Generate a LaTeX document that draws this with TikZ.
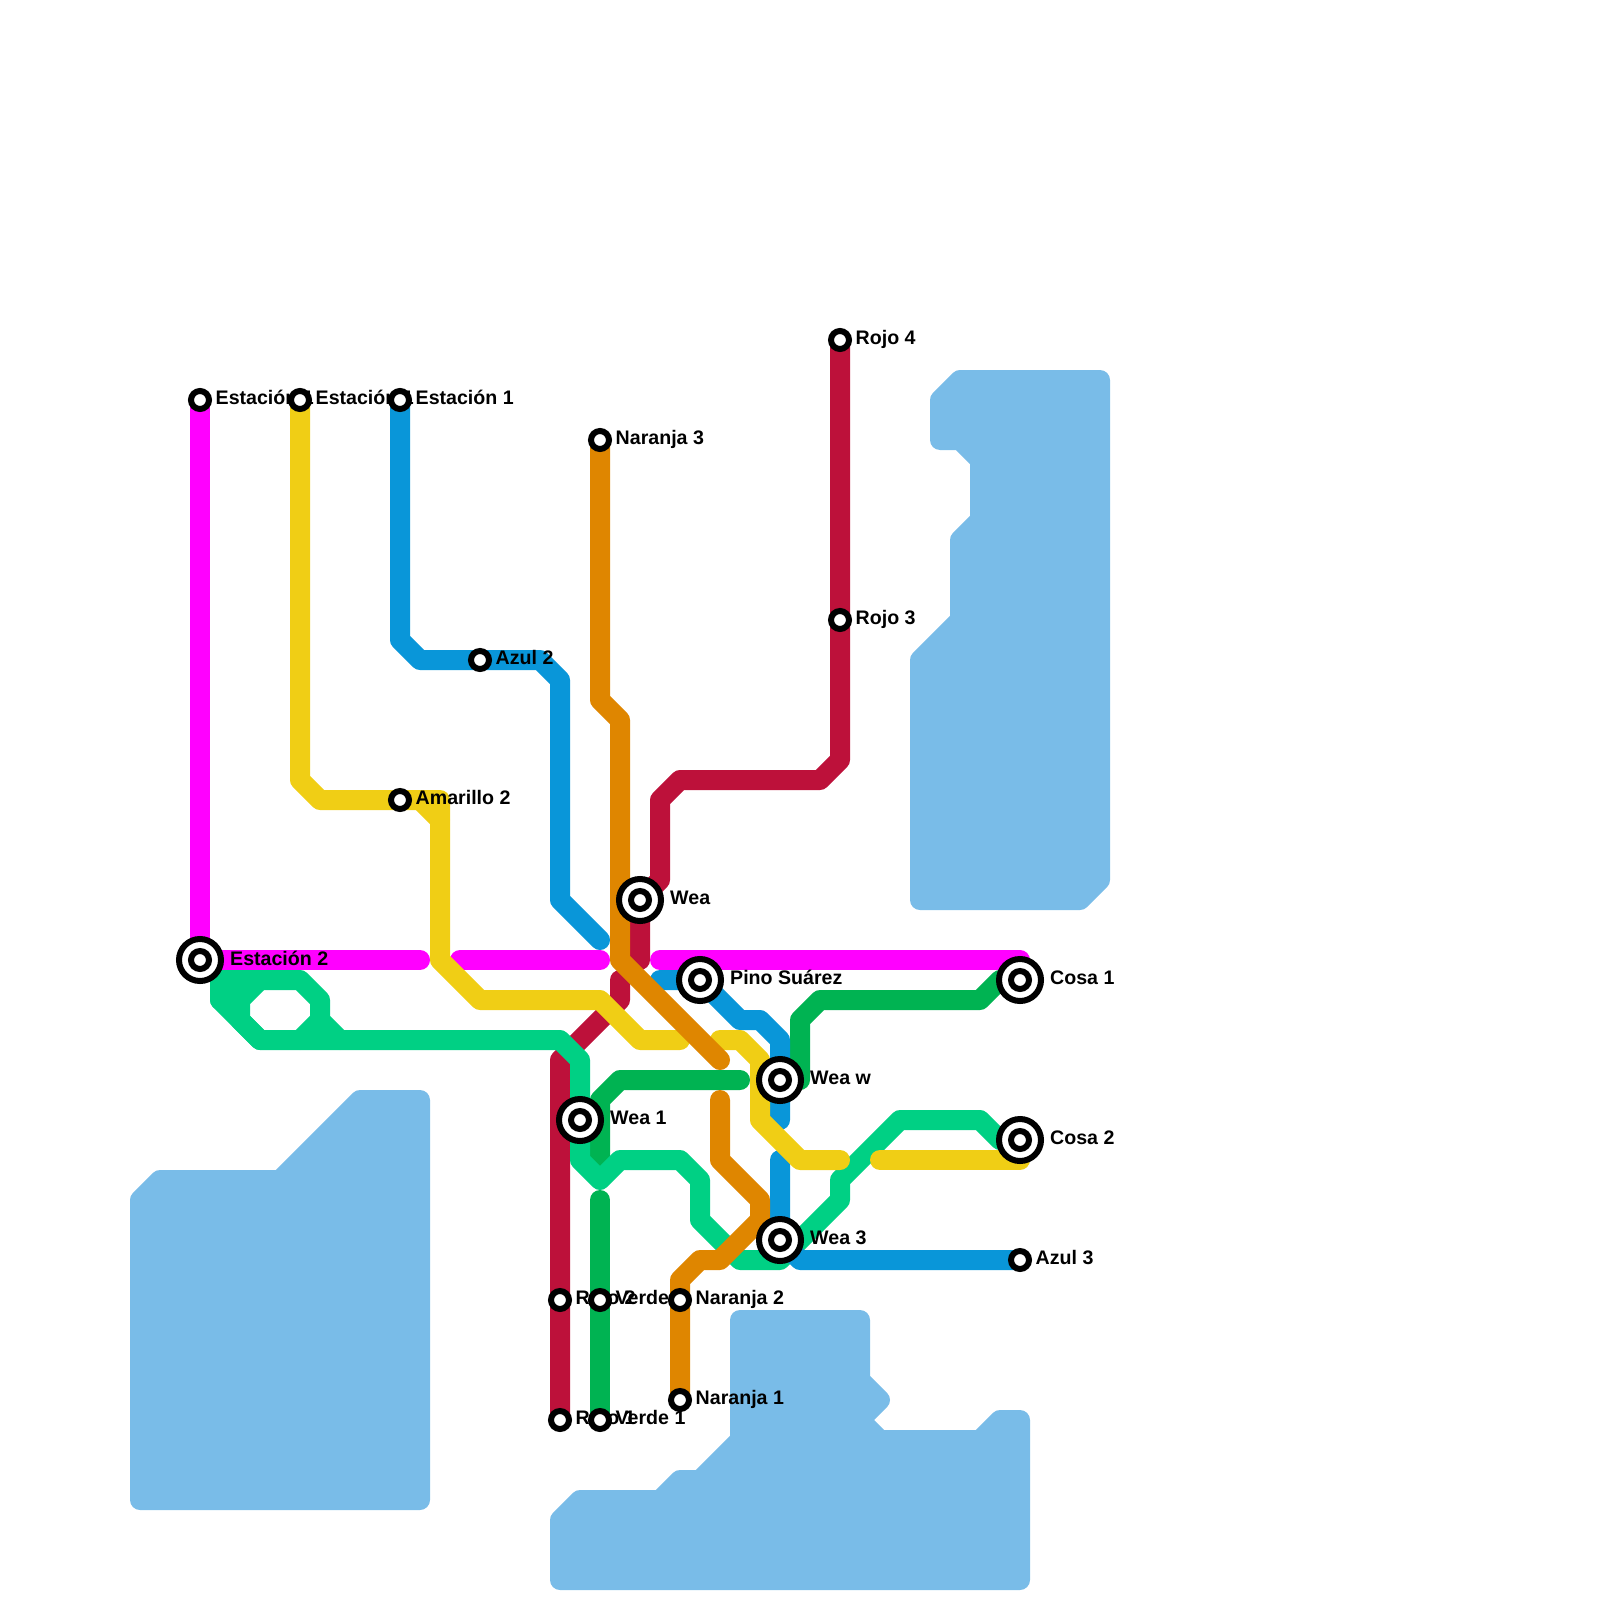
\documentclass[tikz,border=0pt]{standalone}
\usepackage{fontspec}
\setmainfont{Liberation Sans}
\usetikzlibrary{backgrounds}
\definecolor{linemagenta}{RGB}{255,0,255}
\definecolor{lineyellow}{RGB}{240,206,21}
\definecolor{lineblue}{RGB}{9,150,217}
\definecolor{linered}{RGB}{189,17,58}
\definecolor{lineorange}{RGB}{223,134,0}
\definecolor{linegreen}{RGB}{0,208,132}
\definecolor{linedark}{RGB}{0,179,82}
\definecolor{waterblue}{RGB}{121,188,232}

\begin{document}
\begin{tikzpicture}[
    x=1pt, y=-1pt,
    water/.style={draw=waterblue, fill=waterblue, line width=20pt, line join=round},
    metro/.style={line width=20pt, line join=round, line cap=round},
    stop/.style={circle, draw=black, fill=white, line width=6pt, minimum size=18pt, inner sep=0pt, outer sep=0pt},
    hub/.style={stop, minimum size=42pt},
    stoptext/.style={anchor=base west, inner sep=0pt, font=\fontsize{19.6}{20}\selectfont\bfseries}
  ]
    \useasboundingbox (0,0) rectangle (1600,1600);
    % labels go first, the rings sit on top of them
    \node[stoptext] (lest1) at (215.5,404) {Estación 1};
    \node[stoptext] (lest2) at (315.5,404) {Estación 1};
    \node[stoptext] (lest3) at (415.5,404) {Estación 1};
    \node[stoptext] (lest4) at (230,965) {Estación 2};
    \node[stoptext] (lama2) at (415.5,804) {Amarillo 2};
    \node[stoptext] (lazu2) at (495.5,664) {Azul 2};
    \node[stoptext] (lazu3) at (1035.5,1264) {Azul 3};
    \node[stoptext] (lnar3) at (615.5,444) {Naranja 3};
    \node[stoptext] (lnar2) at (695.5,1304) {Naranja 2};
    \node[stoptext] (lnar1) at (695.5,1404) {Naranja 1};
    \node[stoptext] (lroj4) at (855.5,344) {Rojo 4};
    \node[stoptext] (lroj3) at (855.5,624) {Rojo 3};
    \node[stoptext] (lroj2) at (575.5,1304) {Rojo 2};
    \node[stoptext] (lroj1) at (575.5,1424) {Rojo 1};
    \node[stoptext] (lver2) at (615.5,1304) {Verde 2};
    \node[stoptext] (lver1) at (615.5,1424) {Verde 1};
    \node[stoptext] (lwea) at (670,904) {Wea};
    \node[stoptext] (lpino) at (730,984) {Pino Suárez};
    \node[stoptext] (lweaw) at (810,1084) {Wea w};
    \node[stoptext] (lwea1) at (610,1124) {Wea 1};
    \node[stoptext] (lwea3) at (810,1244) {Wea 3};
    \node[stoptext] (lcosa1) at (1050,984) {Cosa 1};
    \node[stoptext] (lcosa2) at (1050,1144) {Cosa 2};
    % small stations
    \node[stop] (est1) at (200,400) {};
    \node[stop] (est2) at (300,400) {};
    \node[stop] (est3) at (400,400) {};
    \node[stop] (ama2) at (400,800) {};
    \node[stop] (azu2) at (480,660) {};
    \node[stop] (azu3) at (1020,1260) {};
    \node[stop] (nar3) at (600,440) {};
    \node[stop] (nar2) at (680,1300) {};
    \node[stop] (nar1) at (680,1400) {};
    \node[stop] (roj4) at (840,340) {};
    \node[stop] (roj3) at (840,620) {};
    \node[stop] (roj2) at (560,1300) {};
    \node[stop] (roj1) at (560,1420) {};
    \node[stop] (ver2) at (600,1300) {};
    \node[stop] (ver1) at (600,1420) {};
    % interchange stations
    \foreach \nm/\px/\py in {est4/200/960, wea/640/900, pino/700/980, weaw/780/1080,
                             weaone/580/1120, weathree/780/1240, cosaone/1020/980, cosatwo/1020/1140} {
      \node[hub] (\nm) at (\px,\py) {};
      \node[stop] (\nm dot) at (\px,\py) {};
    }
    \begin{scope}[on background layer]
      % water
      \draw[water] (960,380) -- (1100,380) -- (1100,880) -- (1080,900) -- (920,900) -- (920,660) -- (960,620) -- (960,540)
        -- (980,520) -- (980,460) -- (960,440) -- (940,440) -- (940,400) -- cycle;
      \draw[water] (140,1200) -- (160,1180) -- (280,1180) -- (360,1100) -- (420,1100) -- (420,1500) -- (140,1500) -- cycle;
      \draw[water] (560,1520) -- (580,1500) -- (660,1500) -- (680,1480) -- (700,1480) -- (740,1440) -- (740,1320) -- (860,1320)
        -- (860,1380) -- (880,1400) -- (860,1420) -- (880,1440) -- (980,1440) -- (1000,1420) -- (1020,1420) -- (1020,1580)
        -- (560,1580) -- cycle;
      % red
      \draw[metro, linered] (roj4.center) -- (roj3.center) -- (840,760) -- (820,780) -- (680,780) -- (660,800) -- (660,880)
        -- (wea.center) -- (640,960);
      \draw[metro, linered] (620,980) -- (620,1000) -- (560,1060) -- (roj2.center) -- (roj1.center);
      % dark green
      \draw[metro, linedark] (ver1.center) -- (ver2.center) -- (600,1200);
      \draw[metro, linedark] (600,1160) -- (600,1100) -- (620,1080) -- (740,1080);
      \draw[metro, linedark] (cosaone.center) -- (1000,980) -- (980,1000) -- (820,1000) -- (800,1020) -- (800,1080);
      % light green
      \draw[metro, linegreen] (260,980) -- (240,1000) -- (240,1020) -- (260,1040);
      \draw[metro, linegreen] (220,980) -- (240,1000);
      \draw[metro, linegreen] (320,1020) -- (300,1040);
      \draw[metro, linegreen] (220,1000) -- (220,980) -- (300,980) -- (320,1000) -- (320,1020) -- (340,1040);
      \draw[metro, linegreen] (220,1000) -- (260,1040) -- (560,1040) -- (580,1060) -- (weaone.center) -- (580,1160)
        -- (600,1180) -- (620,1160) -- (680,1160) -- (700,1180) -- (700,1220) -- (740,1260) -- (780,1260) -- (840,1200)
        -- (840,1180) -- (900,1120) -- (980,1120) -- (1000,1140) -- (cosatwo.center);
      % blue
      \draw[metro, lineblue] (est3.center) -- (400,640) -- (420,660) -- (azu2.center) -- (540,660) -- (560,680) -- (560,900) -- (600,940);
      \draw[metro, lineblue] (660,980) -- (pino.center) -- (740,1020) -- (760,1020) -- (780,1040) -- (weaw.center) -- (780,1120);
      \draw[metro, lineblue] (780,1160) -- (weathree.center) -- (800,1260) -- (azu3.center);
      % magenta
      \draw[metro, linemagenta] (est1.center) -- (est4.center) -- (420,960);
      \draw[metro, linemagenta] (460,960) -- (600,960);
      \draw[metro, linemagenta] (660,960) -- (1020,960);
      % yellow
      \draw[metro, lineyellow] (est2.center) -- (300,780) -- (320,800) -- (ama2.center) -- (440,800) -- (440,960)
        -- (480,1000) -- (600,1000) -- (640,1040) -- (680,1040);
      \draw[metro, lineyellow] (420,800) -- (440,820);
      \draw[metro, lineyellow] (720,1040) -- (740,1040) -- (760,1060) -- (760,1120) -- (800,1160) -- (840,1160);
      \draw[metro, lineyellow] (880,1160) -- (1020,1160);
      % orange
      \draw[metro, lineorange] (nar3.center) -- (600,700) -- (620,720) -- (620,960) -- (720,1060);
      \draw[metro, lineorange] (720,1100) -- (720,1160) -- (760,1200) -- (760,1220) -- (720,1260) -- (700,1260) -- (680,1280)
        -- (nar2.center) -- (nar1.center);
    \end{scope}
  \end{tikzpicture}
\end{document}
